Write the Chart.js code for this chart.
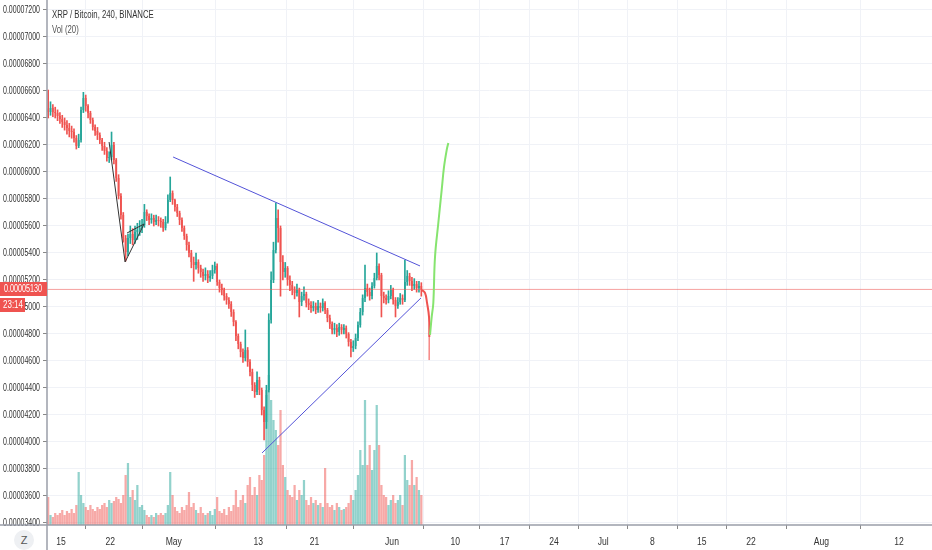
<!DOCTYPE html>
<html>
<head>
<meta charset="utf-8">
<script src="https://cdn.jsdelivr.net/npm/chart.js@4.4.1/dist/chart.umd.min.js"></script>
<style>
  html,body{margin:0;padding:0;background:#fff;}
  #wrap{position:relative;width:932px;height:550px;overflow:hidden;}
  canvas{position:absolute;left:0;top:0;}
  .lbl{position:absolute;font-family:'Liberation Sans',Arial,sans-serif;white-space:nowrap;transform-origin:0 50%;transform:scaleX(0.74);}
  #title{left:52px;top:8px;font-size:10.5px;color:#333;}
  #vol{left:52px;top:23px;font-size:10.5px;color:#555;}
  #zbtn{left:14px;top:530px;width:20px;height:20px;border-radius:10px;background:#eef0f3;color:#555;font-size:11px;text-align:center;line-height:20px;transform:none;}
</style>
</head>
<body>
<div id="wrap">
  <canvas id="c" width="932" height="550"></canvas>
  <div class="lbl" id="title">XRP / Bitcoin, 240, BINANCE</div>
  <div class="lbl" id="vol">Vol (20)</div>
  <div class="lbl" id="zbtn">Z</div>
</div>
<script>
// ---- DATA (prices in units of 1e-8 BTC, one candle per 8h starting 13 Apr) ----
const firstOpen = 6470;
const closes = [
6444,6474,6444,6437,6415,6393,6370,6348,6326,6304,
6296,6252,6193,6237,6459,6548,6489,6437,6385,6333,
6304,6274,6237,6193,6156,6104,6111,6200,6089,5956,
5822,5681,5511,5407,5511,5541,5496,5556,5570,5585,
5607,5704,5674,5644,5659,5630,5644,5637,5630,5585,
5630,5793,5844,5793,5741,5696,5644,5585,5526,5459,
5400,5333,5311,5333,5289,5259,5230,5244,5215,5230,
5274,5304,5185,5141,5126,5081,5052,5022,4963,4889,
4785,4726,4667,4622,4681,4593,4519,4422,4370,4459,
4385,4237,4148,4385,4904,5200,5422,5659,5585,5333,
5259,5289,5200,5163,5126,5104,5126,5037,5081,5096,
5030,5015,4993,5007,4978,5007,4993,5030,4978,4919,
4874,4830,4844,4815,4852,4830,4844,4800,4741,4696,
4711,4770,4867,4963,5067,5141,5111,5081,5156,5215,
5304,5237,5081,5067,5052,5081,5126,5052,5007,5037,
5067,5052,5185,5230,5193,5156,5170,5141,5156,5130];
const highs = [
6607,6520,6500,6480,6460,6440,6420,6400,6380,6360,
6340,6320,6270,6280,6480,6590,6570,6500,6450,6400,
6350,6330,6290,6250,6220,6180,6150,6296,6220,6100,
5980,5840,5700,5530,5540,5600,5580,5600,5620,5640,
5650,5760,5720,5690,5690,5680,5680,5670,5660,5650,
5670,5830,5963,5860,5800,5760,5710,5660,5600,5540,
5480,5420,5370,5400,5350,5310,5280,5290,5270,5270,
5310,5333,5320,5200,5170,5140,5100,5070,5040,4980,
4900,4800,4740,4690,4830,4700,4610,4540,4440,4520,
4480,4400,4260,4420,4950,5260,5480,5770,5720,5600,
5380,5330,5300,5230,5190,5150,5170,5140,5110,5150,
5110,5060,5040,5040,5030,5050,5030,5060,5040,4990,
4940,4890,4880,4870,4880,4870,4870,4860,4810,4760,
4750,4800,4890,4990,5090,5311,5170,5140,5180,5250,
5400,5320,5250,5110,5090,5120,5160,5140,5070,5070,
5100,5090,5348,5270,5250,5220,5210,5190,5190,5180];
const lows = [
6400,6420,6410,6400,6380,6360,6330,6310,6280,6260,
6250,6220,6170,6180,6220,6440,6450,6400,6360,6310,
6270,6240,6210,6160,6130,6080,6070,6090,6060,5930,
5800,5650,5480,5340,5380,5470,5460,5470,5500,5530,
5550,5590,5640,5610,5620,5600,5610,5600,5590,5560,
5570,5620,5780,5760,5710,5670,5610,5560,5500,5420,
5370,5290,5190,5280,5250,5220,5190,5200,5180,5190,
5210,5250,5160,5110,5090,5050,5020,4990,4930,4860,
4750,4690,4630,4590,4600,4560,4490,4380,4330,4350,
4350,4200,4015,4100,4370,4880,5180,5400,5480,5080,
5200,5220,5160,5120,5090,5060,5080,4926,5010,5050,
5000,4980,4960,4970,4950,4960,4960,4970,4950,4890,
4840,4800,4800,4780,4790,4800,4800,4770,4710,4630,
4670,4690,4750,4850,4940,5040,5080,5050,5060,5140,
5200,5200,4926,5030,5020,5030,5060,5020,4926,4990,
5020,5020,5040,5160,5160,5120,5130,5110,5110,5080];
const volumes = [
28,10,8,12,10,12,15,10,14,12,
16,12,20,53,30,22,18,15,20,16,
14,18,16,20,22,18,25,22,24,28,
26,22,30,50,62,28,35,25,40,18,
20,15,10,8,10,8,12,10,12,10,
12,20,53,30,18,14,12,18,15,20,
33,18,22,15,12,18,12,10,12,14,
10,16,28,14,12,16,10,18,14,20,
35,18,25,30,22,40,48,30,38,30,
50,45,70,130,150,125,105,95,80,115,
60,48,35,30,28,40,25,35,30,45,
25,20,28,22,25,20,22,18,57,22,
18,20,15,22,18,15,16,18,22,30,
25,35,50,75,60,125,60,80,55,75,
120,80,40,30,28,20,25,30,22,25,
30,20,70,45,40,65,40,48,35,30];
const lastPrice = 5130;
const lastPriceLabel = '0.00005130';
const countdownLabel = '23:14';
// x axis: days since 13 Apr 00:00
const tickDays   = [2,9,18,30,38,49,58,65,72,79,86,93,100,110,121];
const tickLabels = ['15','22','May','13','21','Jun','10','17','24','Jul','8','15','22','Aug','12'];
const priceTicks = [3400,3600,3800,4000,4200,4400,4600,4800,5000,5200,5400,5600,5800,6000,6200,6400,6600,6800,7000,7200];
// drawings (day, price)
const upperTrend = [[17.91,6111],[52.98,5304]];
const lowerTrend = [[30.55,3919],[53.12,5067]];
const pennant    = [[8.82,6222],[11.09,5333],[13.79,5615],[11.37,5548]];
const redPath    = [[53.22,5126],[53.69,5104],[53.98,5030],[54.26,4926],[54.30,4778]];
const redTail    = [[54.30,4778],[54.28,4607]];
const greenPath  = [[54.40,4793],[54.64,4926],[54.87,5030],[55.11,5370],[55.58,5622],[56.06,5867],[56.39,6037],[56.77,6163],[57.0,6215]];

// ---- build ----
const UP = '#26a69a', DN = '#ef5350';
const UPV = 'rgba(38,166,154,0.5)', DNV = 'rgba(239,83,80,0.5)';
const opens = closes.map((c,i)=> i===0 ? firstOpen : closes[i-1]);
const tOf = i => i/3 + 1/6;
const isUp = closes.map((c,i)=> c >= opens[i]);
const bodyData = closes.map((c,i)=>({x:tOf(i), y:[opens[i], c]}));
const wickData = closes.map((c,i)=>({x:tOf(i), y:[lows[i], highs[i]]}));
const volData  = volumes.map((v,i)=>({x:tOf(i), y:v}));
const pts = a => a.map(p=>({x:p[0], y:p[1]}));
const XMAX = 125.7, YMIN = 3385, YMAX = 7274;

const FONT = "'Liberation Sans',Arial,sans-serif";

const overlay = {
  id:'overlay',
  beforeDraw(chart){
    const ys = chart.scales.y, xs = chart.scales.x;
    ys.getLabelItems(chart.chartArea).forEach(it=>{ it.options.maxWidth = 37; });
    xs.getLabelItems(chart.chartArea).forEach(it=>{
      chart.ctx.save(); chart.ctx.font = it.font.string;
      const w = chart.ctx.measureText(it.label).width;
      chart.ctx.restore();
      it.options.maxWidth = w*0.78;
    });
  },
  afterDraw(chart){
    const ctx = chart.ctx, ys = chart.scales.y;
    ctx.save();
    ctx.strokeStyle = '#9a9ea8'; ctx.lineWidth = 1.5;
    ctx.beginPath(); ctx.moveTo(47,0); ctx.lineTo(47,550); ctx.stroke();
    ctx.beginPath(); ctx.moveTo(0,525); ctx.lineTo(932,525); ctx.stroke();
    const y = Math.round(ys.getPixelForValue(lastPrice));
    ctx.fillStyle = DN;
    ctx.fillRect(0, y-7, 47, 14);
    ctx.fillRect(0, y+9, 25, 14);
    ctx.fillStyle = '#fff';
    ctx.font = '10.5px ' + FONT;
    ctx.textAlign = 'right'; ctx.textBaseline = 'middle';
    ctx.fillText(lastPriceLabel, 42, y, 38);
    ctx.textAlign = 'left';
    ctx.fillText(countdownLabel, 3, y+16, 20);
    ctx.restore();
  }
};

const zeroPad = s => { s.paddingTop = 0; s.paddingBottom = 0; s.paddingLeft = 0; s.paddingRight = 0; };

new Chart(document.getElementById('c'), {
  type:'bar',
  data:{
    datasets:[
      {type:'line', data:pts(greenPath), borderColor:'#86e46f', borderWidth:2, pointRadius:0, tension:0.4, order:0, yAxisID:'y'},
      {type:'line', data:pts(redPath), borderColor:'#ef5350', borderWidth:2, pointRadius:0, tension:0.4, order:0, yAxisID:'y'},
      {type:'line', data:pts(redTail), borderColor:'rgba(239,83,80,0.45)', borderWidth:1, pointRadius:0, order:0, yAxisID:'y'},
      {type:'line', data:pts(upperTrend), borderColor:'#5353d8', borderWidth:1, pointRadius:0, order:1, yAxisID:'y'},
      {type:'line', data:pts(lowerTrend), borderColor:'#5353d8', borderWidth:1, pointRadius:0, order:1, yAxisID:'y'},
      {type:'line', data:pts(pennant), borderColor:'#333', borderWidth:1, pointRadius:0, order:1, yAxisID:'y'},
      {type:'line', data:[{x:0,y:lastPrice},{x:XMAX,y:lastPrice}], borderColor:'rgba(239,83,80,0.55)', borderWidth:1, pointRadius:0, order:3, yAxisID:'y'},
      {data:bodyData, backgroundColor:isUp.map(u=>u?UP:DN), barPercentage:0.75, categoryPercentage:1, grouped:false, order:4, yAxisID:'y'},
      {data:wickData, backgroundColor:isUp.map(u=>u?UP:DN), barThickness:1, grouped:false, order:5, yAxisID:'y'},
      {data:volData, backgroundColor:isUp.map(u=>u?UPV:DNV), barPercentage:0.95, categoryPercentage:1, grouped:false, order:10, yAxisID:'yv'}
    ]
  },
  options:{
    responsive:false, animation:false, devicePixelRatio:1,
    layout:{padding:0},
    plugins:{legend:{display:false}, tooltip:{enabled:false}},
    scales:{
      x:{type:'linear', position:'bottom', min:0, max:XMAX, offset:false,
         afterBuildTicks:s=>{ s.ticks = tickDays.map(v=>({value:v})); },
         afterFit:s=>{ s.height = 25; zeroPad(s); },
         ticks:{autoSkip:false, maxRotation:0, padding:6, color:'#333', font:{family:FONT, size:11},
                callback:(v,i)=>tickLabels[i]},
         grid:{color:'#f0f2f7', tickLength:4, tickColor:'#888', drawTicks:true},
         border:{display:false}},
      y:{type:'linear', position:'left', min:YMIN, max:YMAX,
         afterBuildTicks:s=>{ s.ticks = priceTicks.map(v=>({value:v})); },
         afterFit:s=>{ s.width = 47; zeroPad(s); },
         ticks:{padding:3, color:'#333', font:{family:FONT, size:10.5},
                callback:v=>(v/1e8).toFixed(8)},
         grid:{color:'#f0f2f7', tickLength:4, tickColor:'#888', drawTicks:true},
         border:{display:false}},
      yv:{type:'linear', display:false, min:0, max:525}
    }
  },
  plugins:[overlay]
});
</script>
</body>
</html>
